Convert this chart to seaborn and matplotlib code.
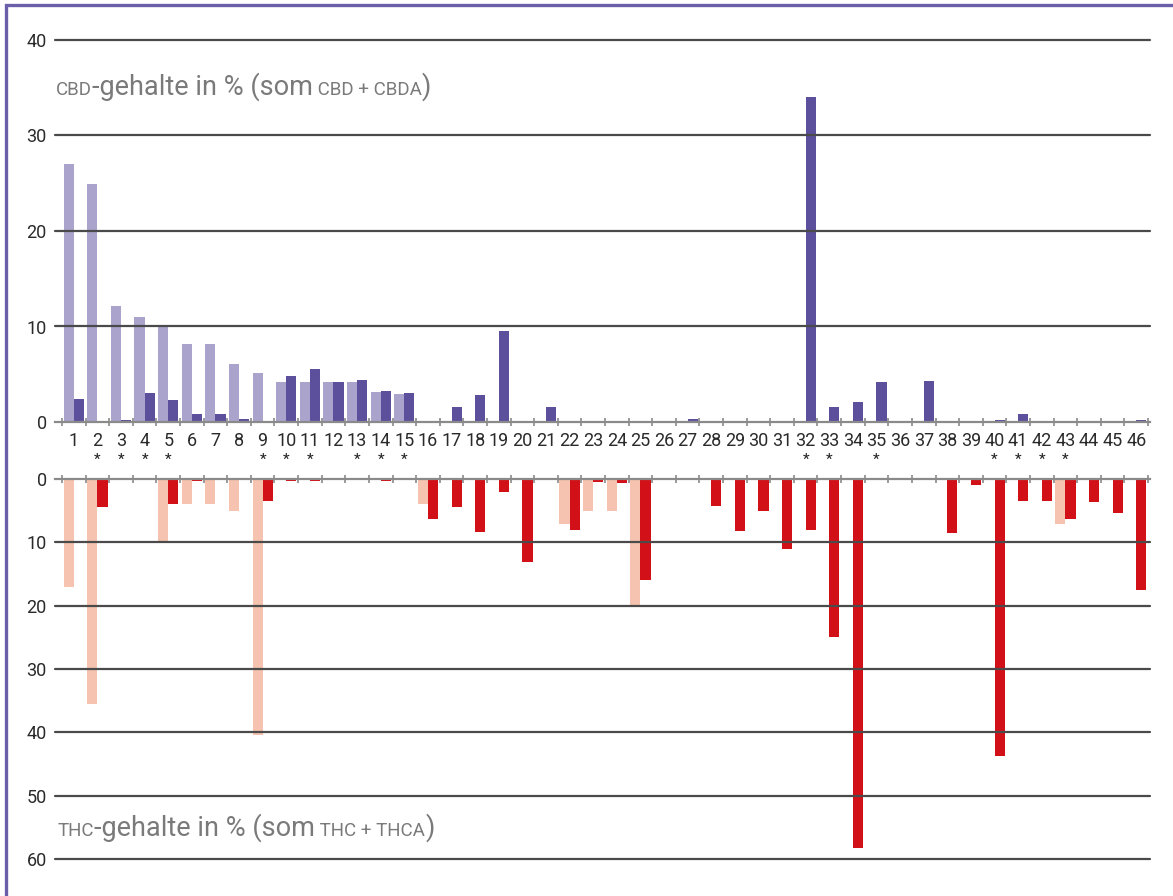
import matplotlib

matplotlib.use("Agg")
import matplotlib.pyplot as plt
import numpy as np
import pandas as pd
import seaborn as sns
from matplotlib.patches import Rectangle


SAMPLES = [str(i) for i in range(1, 47)]
STARRED = ["2", "3", "4", "5", "9", "10", "11", "13", "14", "15",
           "32", "33", "35", "40", "41", "42", "43"]

# CBD (top panel), light and dark series per sample 1..46
cbd_light = [27.0, 24.9, 12.1, 11.0, 10.0, 8.2, 8.2, 6.1, 5.1, 4.2,
             4.2, 4.2, 4.2, 3.1, 2.9, 0, 0, 0, 0, 0,
             0, 0, 0, 0, 0, 0, 0, 0, 0, 0,
             0, 0, 0, 0, 0, 0, 0, 0, 0, 0,
             0, 0, 0, 0, 0, 0]
cbd_dark = [2.4, 0, 0.2, 3.0, 2.3, 0.8, 0.8, 0.35, 0, 4.8,
            5.5, 4.2, 4.4, 3.2, 3.0, 0, 1.6, 2.8, 9.5, 0,
            1.6, 0, 0, 0, 0, 0, 0.35, 0, 0, 0,
            0, 34.0, 1.6, 2.1, 4.2, 0, 4.25, 0, 0, 0.25,
            0.8, 0, 0, 0, 0, 0.2]

# THC (bottom panel, drawn downwards)
thc_light = [17.1, 35.5, 0, 0, 9.9, 4.0, 4.0, 5.0, 40.5, 0,
             0, 0, 0, 0, 0, 3.9, 0, 0, 0, 0,
             0, 7.1, 5.0, 5.0, 20.2, 0, 0, 0, 0, 0,
             0, 0, 0, 0, 0, 0, 0, 0, 0, 0,
             0, 0, 7.1, 0, 0, 0]
thc_dark = [0, 4.4, 0, 0, 4.0, 0.3, 0, 0, 3.4, 0.3,
            0.3, 0, 0, 0.3, 0, 6.3, 4.5, 8.4, 2.0, 13.1,
            0, 8.0, 0.4, 0.7, 15.9, 0, 0, 4.3, 8.2, 5.1,
            11.0, 8.0, 25.0, 58.3, 0, 0, 0, 8.5, 1.0, 43.7,
            3.4, 3.5, 6.3, 3.7, 5.4, 17.6]

CBD_COLORS = ["#aaa3cc", "#5c509d"]
THC_COLORS = ["#f5c3af", "#d21018"]
GRID_COLOR = "#4a4a4a"
ZERO_COLOR = "#8a8a8a"
LABEL_GRAY = "#7a7a7a"
FRAME_COLOR = "#6a5fa8"

W, H = 1173, 896


def long_frame(light, dark):
    return pd.DataFrame({
        "monster": SAMPLES * 2,
        "reeks": ["licht"] * len(SAMPLES) + ["donker"] * len(SAMPLES),
        "waarde": list(light) + list(dark),
    })


def draw_panel(ax, df, colors, gridvals):
    sns.barplot(data=df, x="monster", y="waarde", hue="reeks",
                hue_order=["licht", "donker"], order=SAMPLES,
                palette=colors, width=0.86, saturation=1, linewidth=0,
                legend=False, ax=ax)
    for v in gridvals:
        ax.axhline(v, color=GRID_COLOR, lw=1.6, zorder=3, clip_on=False)
    ax.set_xlim(-0.5 - 7 / 23.61, 45.5 + 2 / 23.61)
    ax.set_xlabel("")
    ax.set_ylabel("")
    ax.set_yticks([0] + gridvals)
    ax.set_yticklabels([str(v) for v in [0] + gridvals])
    ax.tick_params(axis="y", length=0, pad=6, labelsize=13, labelcolor="#2a2a2a")
    ax.set_xticks(np.arange(-0.5, 46, 1), minor=True)
    for s in ax.spines.values():
        s.set_visible(False)


def label_with_small_caps(fig, x, y, parts):
    # draw text pieces one after another on a shared baseline
    renderer = fig.canvas.get_renderer()
    for text, size in parts:
        t = fig.text(x, y, text, fontsize=size, color=LABEL_GRAY,
                     ha="left", va="baseline")
        bb = t.get_window_extent(renderer)
        x = bb.x1 / fig.bbox.width


def main() -> None:
    sns.set_theme(style="white")
    plt.rcParams["font.family"] = ["Roboto", "DejaVu Sans"]

    fig = plt.figure(figsize=(W / 100, H / 100), dpi=100)
    left = 55 / W
    width = (1150 - 55) / W
    ax_top = fig.add_axes([left, 1 - 422 / H, width, (422 - 40) / H])
    ax_bot = fig.add_axes([left, 1 - 859 / H, width, (859 - 479) / H])

    draw_panel(ax_top, long_frame(cbd_light, cbd_dark), CBD_COLORS, [10, 20, 30, 40])
    ax_top.set_ylim(0, 40)
    ax_top.spines["bottom"].set_visible(True)
    ax_top.spines["bottom"].set_color(ZERO_COLOR)
    ax_top.spines["bottom"].set_linewidth(1.6)
    ax_top.tick_params(axis="x", which="major", length=0, pad=7,
                       labelsize=13, labelcolor="#2a2a2a")
    ax_top.tick_params(axis="x", which="minor", direction="inout", length=6,
                       width=1.2, color=ZERO_COLOR, bottom=True)

    for name in STARRED:
        ax_top.text(SAMPLES.index(name), -0.1, "*", transform=ax_top.get_xaxis_transform(),
                    ha="center", va="center", fontsize=11, color="#222222", clip_on=False)

    draw_panel(ax_bot, long_frame(thc_light, thc_dark), THC_COLORS,
               [10, 20, 30, 40, 50, 60])
    ax_bot.set_ylim(60, 0)
    ax_bot.spines["top"].set_visible(True)
    ax_bot.spines["top"].set_color(ZERO_COLOR)
    ax_bot.spines["top"].set_linewidth(1.6)
    ax_bot.tick_params(axis="x", which="both", bottom=False, labelbottom=False,
                       labeltop=False)
    ax_bot.tick_params(axis="x", which="major", length=0, top=False)
    ax_bot.tick_params(axis="x", which="minor", direction="inout", length=6,
                       width=1.2, color=ZERO_COLOR, top=True)

    label_with_small_caps(fig, 56 / W, 1 - 95 / H,
                          [("CBD", 13.5), ("-gehalte in % (som", 19.5),
                           (" CBD + CBDA", 13.5), (")", 19.5)])
    label_with_small_caps(fig, 58 / W, 1 - 836 / H,
                          [("THC", 13.5), ("-gehalte in % (som", 19.5),
                           (" THC + THCA", 13.5), (")", 19.5)])

    fig.patches.append(Rectangle((6 / W, -0.05), 1.1, 1 - 5 / H + 0.05,
                                 transform=fig.transFigure, fill=False,
                                 edgecolor=FRAME_COLOR, lw=2.4))

    fig.savefig("out.png", dpi=100)
    plt.close(fig)


if __name__ == "__main__":
    main()
